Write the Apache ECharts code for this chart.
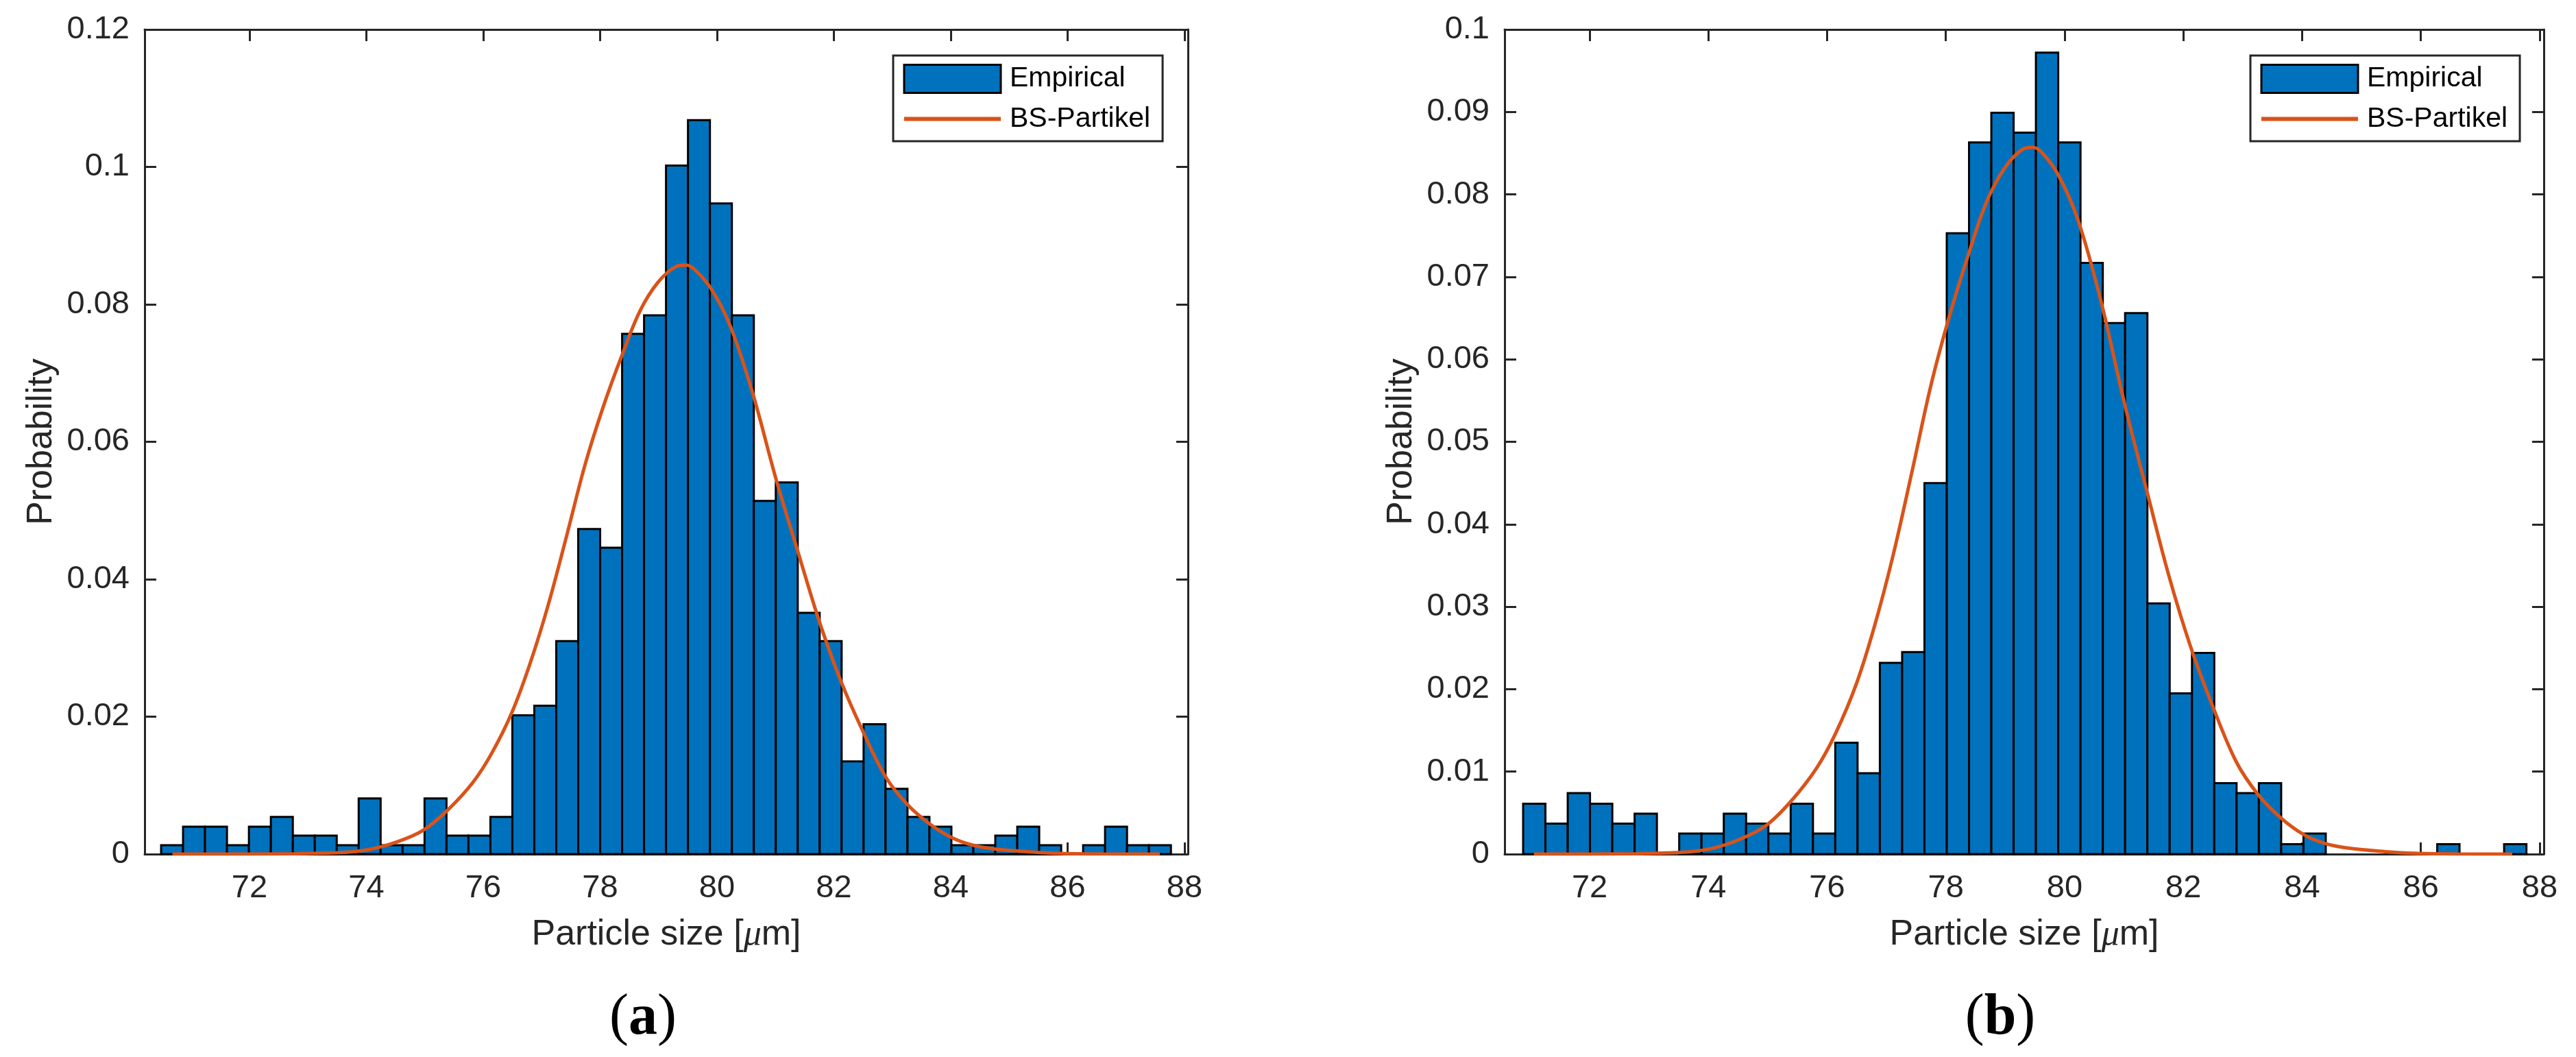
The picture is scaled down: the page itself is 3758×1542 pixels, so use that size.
<!DOCTYPE html>
<html>
<head>
<meta charset="utf-8">
<script src="https://cdn.jsdelivr.net/npm/echarts@6/dist/echarts.min.js"></script>
<style>
  html, body { margin: 0; padding: 0; background: #fff; }
  #chart { width: 3758px; height: 1542px; }
</style>
</head>
<body>
<div id="chart"></div>
<script>
// ---------- data ----------
// Panel (a): 46 histogram bins
var binStartA = 70.487;
var binWidthA = 0.3757;
var probA = [0.0013, 0.0040, 0.0040, 0.0013, 0.0040, 0.0054, 0.0027, 0.0027, 0.0013, 0.0081,
             0.0013, 0.0013, 0.0081, 0.0027, 0.0027, 0.0054, 0.0202, 0.0216, 0.0310, 0.0473,
             0.0446, 0.0757, 0.0784, 0.1002, 0.1068, 0.0947, 0.0784, 0.0514, 0.0541, 0.0351,
             0.0310, 0.0135, 0.0189, 0.0095, 0.0054, 0.0040, 0.0013, 0.0013, 0.0027, 0.0040,
             0.0013, 0, 0.0013, 0.0040, 0.0013, 0.0013];

// Panel (b): 45 histogram bins
var binStartB = 70.88;
var binWidthB = 0.3755;
var probB = [0.0061, 0.0037, 0.0074, 0.0061, 0.0037, 0.0049, 0, 0.0025, 0.0025, 0.0049,
             0.0037, 0.0025, 0.0061, 0.0025, 0.0135, 0.0098, 0.0232, 0.0245, 0.0450, 0.0753,
             0.0863, 0.0899, 0.0875, 0.0972, 0.0863, 0.0717, 0.0644, 0.0656, 0.0304, 0.0195,
             0.0244, 0.0086, 0.0074, 0.0086, 0.0012, 0.0025, 0, 0, 0, 0,
             0, 0.0012, 0, 0, 0.0012];

// Fitted BS-Partikel curve (same in both panels), read as points
var curveX = [72.0, 72.8, 73.3, 73.7, 74.07, 74.5, 74.96, 75.39, 75.82, 76.14,
              76.49, 76.80, 77.11, 77.43, 77.74, 78.05, 78.37, 78.68, 78.99, 79.30,
              79.46, 79.60, 79.89, 80.22, 80.60, 81.02, 81.40, 81.75, 82.11, 82.49,
              82.89, 83.26, 83.64, 84.02, 84.38, 84.80, 85.40, 85.89, 86.6];
var curveY = [0.0000, 0.00005, 0.00015, 0.0003, 0.0007, 0.0017, 0.0034, 0.0064, 0.0104, 0.0146,
              0.0206, 0.0277, 0.0362, 0.0464, 0.0566, 0.0650, 0.0725, 0.0790, 0.0832, 0.0855,
              0.0857, 0.0852, 0.0824, 0.0770, 0.0674, 0.0543, 0.0436, 0.0339, 0.0254, 0.0180,
              0.0112, 0.0072, 0.0044, 0.0024, 0.0013, 0.0007, 0.0003, 0.0001, 0.00002];
var curveRangeA = [70.68, 87.58];
var curveRangeB = [71.06, 87.54];

// Axes
var xRangeA = [70.205, 88.06];
var xRangeB = [70.568, 88.07];
var xTicks = [72, 74, 76, 78, 80, 82, 84, 86, 88];
var yMaxA = 0.12, yStepA = 0.02;
var yMaxB = 0.1, yStepB = 0.01;

var seriesNames = ['Empirical', 'BS-Partikel'];
var panelLabels = ['a', 'b'];

// ---------- build ----------
var BAR_COLOR = '#0072BD';
var LINE_COLOR = '#D95319';
var AX_COLOR = '#262626';
var SANS = "'Liberation Sans', Arial, Helvetica, sans-serif";

function binData(start, width, probs) {
  return probs.map(function (p, i) {
    return [start + i * width, start + (i + 1) * width, p];
  });
}
function curveData(range) {
  var d = [[range[0], 0]];
  for (var i = 0; i < curveX.length; i++) d.push([curveX[i], curveY[i]]);
  d.push([range[1], 0]);
  return d;
}
function renderBar(params, api) {
  var v = api.value(2);
  if (!(v > 0)) return null;
  var p0 = api.coord([api.value(0), 0]);
  var p1 = api.coord([api.value(1), v]);
  return {
    type: 'rect',
    shape: { x: p0[0], y: p1[1], width: p1[0] - p0[0], height: p0[1] - p1[1] },
    style: { fill: BAR_COLOR, stroke: '#000', lineWidth: 3 }
  };
}

var grids = [
  { left: 211, top: 43, width: 1522, height: 1203 },
  { left: 2195, top: 43, width: 1516, height: 1203 }
];

function xAxes(gi, range) {
  var common = {
    type: 'value', gridIndex: gi, min: range[0], max: range[1],
    splitLine: { show: false },
    axisLine: { show: true, onZero: false, lineStyle: { color: AX_COLOR, width: 3 } },
    axisTick: { show: true, inside: true, length: 17, customValues: xTicks,
                lineStyle: { color: AX_COLOR, width: 3 } }
  };
  var bottom = Object.assign({}, common, {
    position: 'bottom',
    axisLabel: { show: true, customValues: xTicks, margin: 27, color: AX_COLOR,
                 fontSize: 47, fontFamily: SANS },
    name: '{n|Particle size [}{mu|\u03bc}{n|m]}',
    nameLocation: 'middle',
    nameGap: 92,
    nameTextStyle: {
      rich: {
        n: { fontSize: 52, fontFamily: SANS, color: AX_COLOR },
        mu: { fontSize: 52, fontFamily: "'Liberation Serif', 'DejaVu Serif', serif",
              fontStyle: 'italic', color: AX_COLOR }
      }
    }
  });
  var top = Object.assign({}, common, {
    position: 'top',
    axisLabel: { show: false }
  });
  return [bottom, top];
}
function yAxes(gi, max, step) {
  var common = {
    type: 'value', gridIndex: gi, min: 0, max: max, interval: step,
    splitLine: { show: false },
    axisLine: { show: true, onZero: false, lineStyle: { color: AX_COLOR, width: 3 } },
    axisTick: { show: true, inside: true, length: 17, lineStyle: { color: AX_COLOR, width: 3 } }
  };
  var left = Object.assign({}, common, {
    position: 'left',
    axisLabel: { show: true, margin: 22, color: AX_COLOR, fontSize: 47, fontFamily: SANS },
    name: 'Probability',
    nameLocation: 'middle',
    nameGap: 124,
    nameTextStyle: { fontSize: 52, fontFamily: SANS, color: AX_COLOR }
  });
  var right = Object.assign({}, common, {
    position: 'right',
    axisLabel: { show: false }
  });
  return [left, right];
}

var xAxisList = xAxes(0, xRangeA).concat(xAxes(1, xRangeB));
var yAxisList = yAxes(0, yMaxA, yStepA).concat(yAxes(1, yMaxB, yStepB));

function legendFor(left) {
  return {
    orient: 'vertical',
    left: left, top: 81,
    padding: [12, 18, 12, 13],
    itemWidth: 141, itemHeight: 41, itemGap: 16,
    borderColor: AX_COLOR, borderWidth: 3, backgroundColor: '#fff',
    selectedMode: false,
    textStyle: { fontSize: 41, fontFamily: SANS, color: '#000', padding: [0, 0, 0, 8] },
    data: [
      { name: seriesNames[0], icon: 'rect',
        itemStyle: { color: BAR_COLOR, borderColor: '#000', borderWidth: 3 } },
      { name: seriesNames[1],
        itemStyle: { color: 'rgba(0,0,0,0)', borderWidth: 0, opacity: 0 },
        lineStyle: { color: LINE_COLOR, width: 6, opacity: 1 } }
    ]
  };
}

var option = {
  backgroundColor: '#fff',
  animation: false,
  grid: grids,
  xAxis: xAxisList,
  yAxis: yAxisList,
  legend: [legendFor(1303), legendFor(3283)],
  series: [
    { name: seriesNames[0], type: 'custom', xAxisIndex: 0, yAxisIndex: 0,
      renderItem: renderBar, encode: { x: [0, 1], y: 2 },
      itemStyle: { color: BAR_COLOR }, data: binData(binStartA, binWidthA, probA), z: 2 },
    { name: seriesNames[1], type: 'line', xAxisIndex: 0, yAxisIndex: 0,
      symbol: 'none', showSymbol: false, smooth: 0.35,
      lineStyle: { color: LINE_COLOR, width: 5 }, itemStyle: { color: LINE_COLOR },
      data: curveData(curveRangeA), z: 3 },
    { name: seriesNames[0], type: 'custom', xAxisIndex: 2, yAxisIndex: 2,
      renderItem: renderBar, encode: { x: [0, 1], y: 2 },
      itemStyle: { color: BAR_COLOR }, data: binData(binStartB, binWidthB, probB), z: 2 },
    { name: seriesNames[1], type: 'line', xAxisIndex: 2, yAxisIndex: 2,
      symbol: 'none', showSymbol: false, smooth: 0.35,
      lineStyle: { color: LINE_COLOR, width: 5 }, itemStyle: { color: LINE_COLOR },
      data: curveData(curveRangeB), z: 3 }
  ],
  graphic: [
    { type: 'text', x: 938, y: 1486,
      style: { text: '{p|(}{b|' + panelLabels[0] + '}{p|)}', align: 'center', verticalAlign: 'middle',
               rich: { p: { fontSize: 84, fontFamily: "'Liberation Serif', serif", fill: '#000' },
                       b: { fontSize: 84, fontFamily: "'Liberation Serif', serif", fontWeight: 'bold', fill: '#000' } } } },
    { type: 'text', x: 2918, y: 1486,
      style: { text: '{p|(}{b|' + panelLabels[1] + '}{p|)}', align: 'center', verticalAlign: 'middle',
               rich: { p: { fontSize: 84, fontFamily: "'Liberation Serif', serif", fill: '#000' },
                       b: { fontSize: 84, fontFamily: "'Liberation Serif', serif", fontWeight: 'bold', fill: '#000' } } } }
  ]
};

var chart = echarts.init(document.getElementById('chart'), null, { renderer: 'canvas', width: 3758, height: 1542 });
chart.setOption(option);
</script>
</body>
</html>
